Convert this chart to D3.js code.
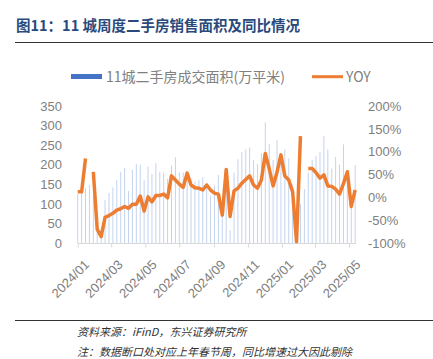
<!DOCTYPE html>
<html lang="zh">
<head>
<meta charset="UTF-8">
<script src="https://d3js.org/d3.v7.min.js"></script>
<style>
    body { margin: 0; background: #fff; }
    svg { display: block; }
    .title { font: bold 14.5px "Noto Sans CJK SC", sans-serif; fill: #2b4a7c; }
    .legend { font: 14px "Noto Sans CJK SC", sans-serif; fill: #808080; }
    .tick text { font: 13px "Liberation Sans", Arial, sans-serif; fill: #808080; }
    .note { font: italic 11px "Noto Sans CJK SC", sans-serif; fill: #333; }
</style>
</head>
<body>
<div class="chart"></div>
<script>
// weekly data, first week starts 2024-01-01
const startDate = new Date(2024, 0, 1)
const area = [125, 130, 140, 148, 120, 60, 20, 110, 128, 142, 161, 182, 192, 133, 187, 202, 200, 160,
    195, 176, 204, 182, 180, 164, 198, 219, 180, 180, 184, 163, 157, 161, 168, 152, 121, 146,
    174, 100, 169, 33, 180, 214, 232, 239, 244, 212, 202, 229, 308, 253, 212, 263, 220, 239,
    216, 150, 25, 100, 138, 180, 212, 223, 233, 273, 239, 190, 220, 200, 252, 160, 120, 199]
// YOY in %, null where the week is dropped
const yoy = [12, 12, 85, null, 56, -70, -86, -44, -40, -35, -28, -25, -20, -24, -15, -15, 3, -30,
    1, -10, 4, 4, 7, -1, 47, 38, 29, 22, 53, 27, 21, 20, 16, 27, 16, 9,
    7, -39, 61, -42, 14, 20, 31, 39, 47, 27, 20, 38, 96, 63, 25, 55, 93, 47,
    38, 12, -97, 134, null, 63, 63, 54, 42, 49, 25, 24, 18, 7, 30, 56, -20, 16]
const leftTicks = [0, 50, 100, 150, 200, 250, 300, 350]
const rightTicks = [-100, -50, 0, 50, 100, 150, 200]

const width = 433, height = 359

const weeks = area.map((v, i) => d3.timeDay.offset(startDate, i * 7))

const svg = d3.select('.chart').append('svg')
    .attr('width', width)
    .attr('height', height)

// header
svg.append('text').attr('class', 'title')
    .attr('x', 16).attr('y', 31)
    .text('图11：11 城周度二手房销售面积及同比情况')
svg.append('line')
    .attr('x1', 15).attr('x2', width).attr('y1', 42.5).attr('y2', 42.5)
    .attr('stroke', '#333').attr('stroke-width', 1)

// legend
svg.append('rect').attr('x', 71).attr('y', 74).attr('width', 31).attr('height', 5).attr('fill', '#4472C4')
svg.append('text').attr('class', 'legend').attr('x', 106).attr('y', 81.5).text('11城二手房成交面积(万平米)')
svg.append('line').attr('x1', 312).attr('x2', 343).attr('y1', 76.7).attr('y2', 76.7)
    .attr('stroke', '#ED7D31').attr('stroke-width', 3)
svg.append('text').attr('class', 'legend').attr('x', 346).attr('y', 81.5).text('YOY')

const x = d3.scaleTime()
    .domain([startDate, new Date(2025, 4, 13, 12)])
    .range([77.7, 356])
const yL = d3.scaleLinear().domain([0, 350]).range([243, 106])
const yR = d3.scaleLinear().domain([-100, 200]).range([243, 106])

// bars
svg.selectAll('.bar')
    .data(area)
    .enter().append('rect')
    .attr('class', 'bar')
    .attr('x', (d, i) => x(weeks[i]) - 0.5)
    .attr('width', 1)
    .attr('y', d => yL(d))
    .attr('height', d => yL(0) - yL(d))
    .attr('fill', '#c3d3ee')

// x axis
const xTicks = d3.timeMonth.every(2).range(startDate, new Date(2025, 4, 2))
const xAxis = svg.append('g')
    .attr('transform', 'translate(0,243.5)')
    .call(d3.axisBottom(x).tickValues(xTicks).tickSize(4).tickFormat(d3.timeFormat('%Y/%m')))
xAxis.select('.domain').attr('stroke', '#d9d9d9').attr('d', 'M77.7,0H356')
xAxis.selectAll('.tick line').attr('stroke', '#d9d9d9')
xAxis.selectAll('.tick text')
    .attr('text-anchor', 'end')
    .attr('dy', 0)
    .attr('transform', 'translate(7,17) rotate(-45)')

// y axes
const left = svg.append('g')
    .attr('transform', 'translate(64,0)')
    .call(d3.axisLeft(yL).tickValues(leftTicks).tickSize(0).tickPadding(2))
left.select('.domain').remove()

const right = svg.append('g')
    .attr('transform', 'translate(366,0)')
    .call(d3.axisRight(yR).tickValues(rightTicks).tickSize(0).tickPadding(2).tickFormat(d => d + '%'))
right.select('.domain').remove()

// yoy line
const line = d3.line()
    .defined(d => d != null)
    .x((d, i) => x(weeks[i]))
    .y(d => yR(d))

svg.append('path')
    .datum(yoy)
    .attr('d', line)
    .attr('fill', 'none')
    .attr('stroke', '#ED7D31')
    .attr('stroke-width', 3.5)
    .attr('stroke-linejoin', 'round')

// footer
svg.append('line')
    .attr('x1', 15).attr('x2', width).attr('y1', 320.5).attr('y2', 320.5)
    .attr('stroke', '#333').attr('stroke-width', 1)
svg.append('text').attr('class', 'note').attr('x', 77).attr('y', 336).text('资料来源：iFinD，东兴证券研究所')
svg.append('text').attr('class', 'note').attr('x', 77).attr('y', 356).text('注：数据断口处对应上年春节周，同比增速过大因此剔除')
</script>
</body>
</html>
